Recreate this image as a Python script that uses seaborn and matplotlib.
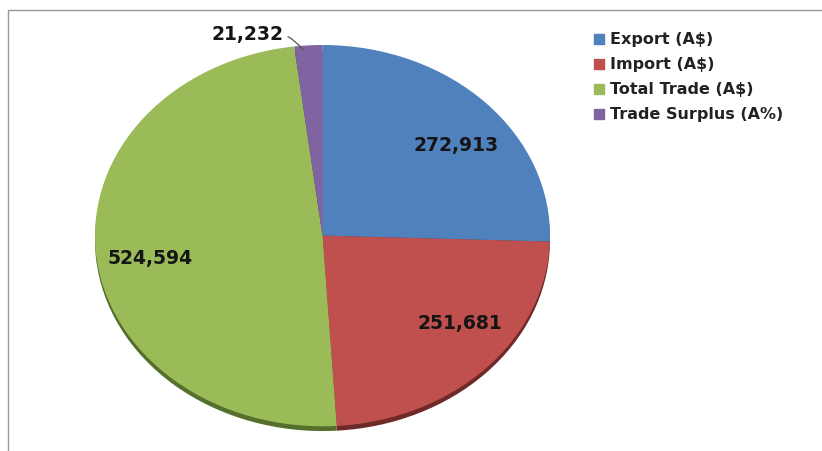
import matplotlib
matplotlib.use("Agg")
import matplotlib.pyplot as plt
import seaborn as sns
from matplotlib.patches import Rectangle
from matplotlib.lines import Line2D

categories = ["Export (A$)", "Import (A$)", "Total Trade (A$)", "Trade Surplus (A%)"]
values = [272913, 251681, 524594, 21232]
value_labels = ["272,913", "251,681", "524,594", "21,232"]

sns.set_theme(style="white")
plt.rcParams['font.family'] = ['DejaVu Sans']

colors = ["#4F81BD", "#C0504D", "#9BBB59", "#8064A2"]
dark = ["#2c4d75", "#6e2a28", "#55702c", "#4a3863"]

fig = plt.figure(figsize=(8.22, 4.51), dpi=100)
fig.patches.append(Rectangle((8/822, -0.05), 1.2, (451-10)/451 + 0.05, transform=fig.transFigure,
                             fill=False, edgecolor="#9a9a9a", linewidth=1.0))

ax = fig.add_axes([95/822, (451-432)/451, 455/822, 387/451])
# shadow
ax.pie(values, colors=dark, startangle=90, counterclock=False, center=(0, -0.025),
       wedgeprops=dict(linewidth=0))
wedges, _ = ax.pie(values, colors=colors, startangle=90, counterclock=False,
                   wedgeprops=dict(linewidth=0))
ax.set_aspect('auto')
ax.set_xlim(-1, 1)
ax.set_ylim(-1.03, 1.0)

label_pos = [(0.587, 0.473), (0.604, -0.463), (-0.758, -0.121)]
for (x, y), t in zip(label_pos, value_labels[:3]):
    ax.text(x, y, t, ha="center", va="center", fontsize=13.5, fontweight="bold", color="#151515")
ax.annotate(value_labels[3], xy=(-0.085, 0.975), xytext=(-0.33, 1.055),
            ha="center", va="center", fontsize=13.5, fontweight="bold", color="#151515",
            annotation_clip=False,
            arrowprops=dict(arrowstyle="-", color="#555555", lw=0.9,
                            connectionstyle="arc3,rad=-0.35",
                            shrinkA=1, shrinkB=0))

handles = [Line2D([0], [0], marker="s", linestyle="none", markersize=6.5,
                  markerfacecolor=c, markeredgecolor=c) for c in colors]
leg = fig.legend(handles, categories, loc="upper left", bbox_to_anchor=(583/822, 1 - 26/451),
                 frameon=False, handletextpad=0.1, labelspacing=0.62, borderaxespad=0,
                 handlelength=1.2, prop=dict(size=11.5, weight="bold"))
for t in leg.get_texts():
    t.set_color("#222222")

fig.savefig("out.png", dpi=100)
